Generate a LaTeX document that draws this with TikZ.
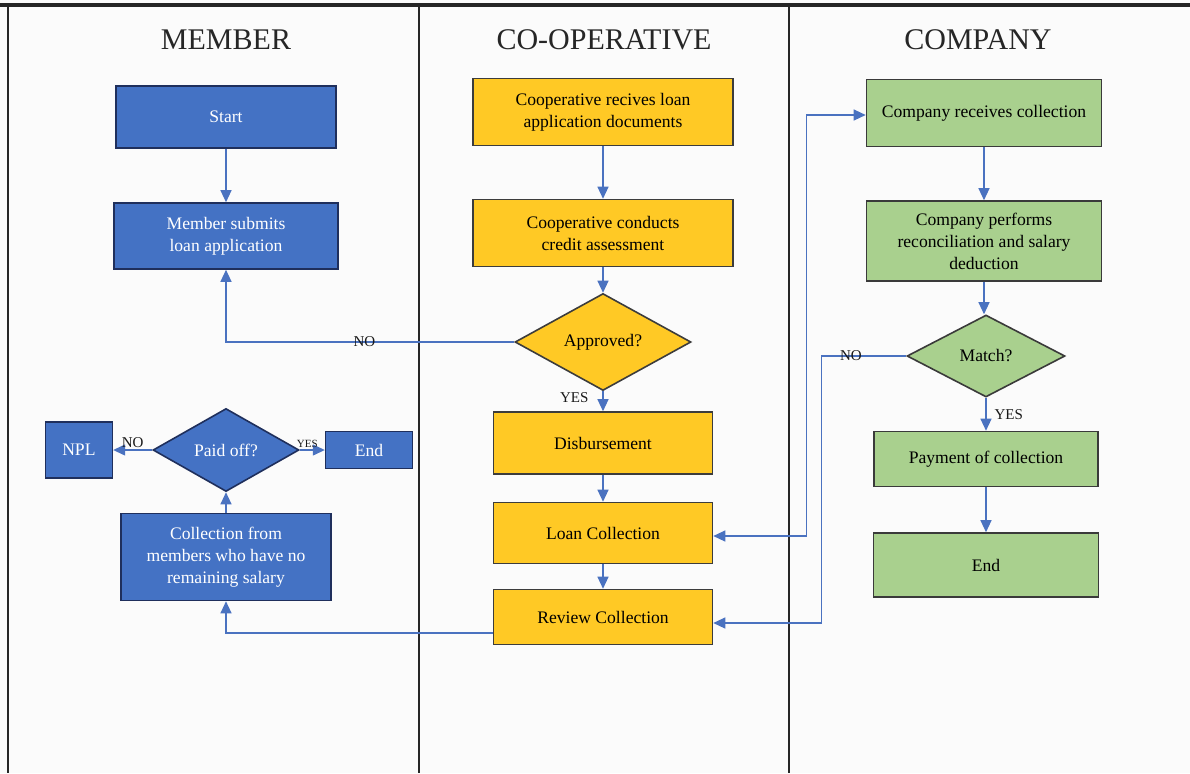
\documentclass[tikz,border=0pt]{standalone}
\usepackage{fontspec}
\setmainfont{Liberation Serif}
\usetikzlibrary{arrows.meta,positioning,shapes.geometric}

\definecolor{paper}{HTML}{FBFBFB}
\definecolor{memberblue}{HTML}{4472C4}
\definecolor{memberedge}{HTML}{1F2F5C}
\definecolor{coopyellow}{HTML}{FFC925}
\definecolor{coopedge}{HTML}{3C3C3C}
\definecolor{companygreen}{HTML}{A9D08E}
\definecolor{companyedge}{HTML}{3A3A3A}
\definecolor{flowblue}{HTML}{4A72C0}

\begin{document}
\begin{tikzpicture}
[x=0.5pt, y=-0.5pt,
% STYLES
every node/.style={font=\fontsize{8.8}{11}\selectfont},
% lane dividers and lane titles
lane/.style={draw=black!85, line width=1pt},
title/.style={font=\fontsize{15}{18}\selectfont, text=black!85},
% the box style is shared by the three kinds of process steps
box/.style={rectangle, draw, line width=0.8pt, align=center, inner sep=2pt},
member/.style={box, fill=memberblue, draw=memberedge, text=white},
coop/.style={box, fill=coopyellow, draw=coopedge, text=black},
company/.style={box, fill=companygreen, draw=companyedge, text=black},
% the decision style is used for the questions
decision/.style={diamond, inner sep=0pt, align=center},
% connectors and their labels
flow/.style={draw=flowblue, line width=0.6pt, -{Triangle[length=6pt,width=5.5pt]}},
answer/.style={font=\fontsize{7.5}{9}\selectfont, inner sep=1pt, text=black!90}]

% Background and lanes
\fill[paper] (0,0) rectangle (1190,773);
\useasboundingbox (0,0) rectangle (1190,773);
\draw[lane, line width=1.6pt] (0,5) -- (1190,5);
\draw[lane] (8,5) -- (8,773);
\draw[lane] (419,5) -- (419,773);
\draw[lane] (789,5) -- (789,773);

\node[title] (member-title) at (226,40) {MEMBER};
\node[title] (coop-title) at (604,40) {CO-OPERATIVE};
\node[title] (company-title) at (978,40) {COMPANY};

% MEMBER
\node[member, minimum width=110pt, minimum height=31pt] (start) at (226,117) {Start};
\node[member, minimum width=112pt, minimum height=33pt] (submit) at (226,236) {Member submits\\loan application};
\node[member, decision, minimum width=73pt, minimum height=41.5pt] (paidoff) at (226,450) {Paid off?};
\node[member, minimum width=33.5pt, minimum height=28pt, left=19.5pt of paidoff] (npl) {NPL};
\node[member, minimum width=43.5pt, minimum height=18.5pt, right=12.5pt of paidoff] (member-end) {End};
\node[member, minimum width=105pt, minimum height=43.5pt] (collect) at (226,557) {Collection from\\members who have no\\remaining salary};

% CO-OPERATIVE
\node[coop, minimum width=130pt, minimum height=33.5pt] (receive) at (603,112) {Cooperative recives loan\\application documents};
\node[coop, minimum width=130pt, minimum height=33.5pt] (assess) at (603,233) {Cooperative conducts\\credit assessment};
\node[coop, decision, draw, line width=0.8pt, minimum width=88pt, minimum height=48.5pt] (approved) at (603,342) {Approved?};
\node[coop, minimum width=109.5pt, minimum height=31pt] (disburse) at (603,443) {Disbursement};
\node[coop, minimum width=109.5pt, minimum height=30.5pt] (loancol) at (603,533) {Loan Collection};
\node[coop, minimum width=109.5pt, minimum height=27.5pt] (review) at (603,617) {Review Collection};

% COMPANY
\node[company, minimum width=117.5pt, minimum height=33.5pt] (creceive) at (984,113) {Company receives collection};
\node[company, minimum width=117.5pt, minimum height=40pt] (reconcile) at (984,241) {Company performs\\reconciliation and salary\\deduction};
\node[company, decision, minimum width=79pt, minimum height=41pt] (match) at (986,356) {Match?};
\node[company, minimum width=112pt, minimum height=27.5pt] (payment) at (986,459) {Payment of collection};
\node[company, minimum width=112.5pt, minimum height=32pt] (company-end) at (986,565) {End};

% Draw the links
\foreach \from/\to in {start/submit, receive/assess, assess/approved, disburse/loancol,
    loancol/review, collect/paidoff, payment/company-end}
  \draw[flow] (\from) -- (\to);
\draw[flow] (creceive) -- (reconcile);
\draw[flow] (reconcile.south) -- (reconcile.south |- match.north);

\draw[flow] (approved) -- node[answer, pos=0.3, left=6pt] (yes-approved) {YES} (disburse);
\draw[flow] (approved.west) -| node[answer, pos=0.26] (no-approved) {NO} (submit.south);
\draw[flow] (paidoff) -- node[answer, above] (no-paid) {NO} (npl);
\draw[flow] (paidoff) -- node[answer, above, pos=0.3, font=\fontsize{5.5}{7}\selectfont] (yes-paid) {YES} (member-end);
\draw[flow] ([yshift=-8pt]review.west) -| (collect.south);
\draw[flow] (match) -- node[answer, right=3pt] (yes-match) {YES} (payment);
\draw[flow] (match.west) -- node[answer, pos=0.65] (no-match) {NO} ++(-85,0) |- ([yshift=-3pt]review.east);
\draw[flow, {Triangle[length=6pt,width=5.5pt]}-{Triangle[length=6pt,width=5.5pt]}]
    ([yshift=-1.5pt]loancol.east) -- ++(93,0) |- ([yshift=-1pt]creceive.west);

\end{tikzpicture}
\end{document}
